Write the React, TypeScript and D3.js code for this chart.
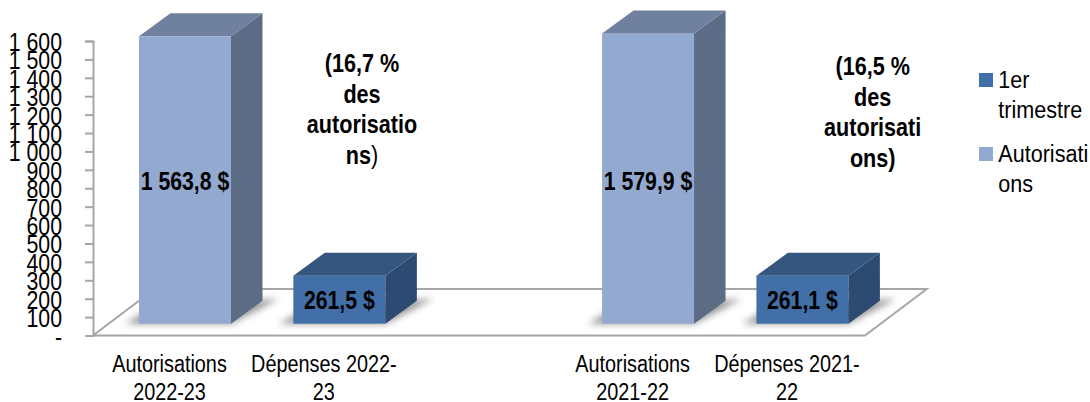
import React, { useEffect, useRef } from "react";
import * as d3 from "d3";

// Bars in plotting order, with an empty slot between the two fiscal years
const slots = ["auth2223", "spend2223", "gap", "auth2122", "spend2122"];
const barSlots = ["auth2223", "spend2223", "auth2122", "spend2122"];
const barValues = [1563.8, 261.5, 1579.9, 261.1];
const barKinds: ("auth" | "spend")[] = ["auth", "spend", "auth", "spend"];
const barLabels = ["1 563,8 $", "261,5 $", "1 579,9 $", "261,1 $"];
const categoryLines = [
  ["Autorisations", "2022-23"],
  ["Dépenses 2022-", "23"],
  ["Autorisations", "2021-22"],
  ["Dépenses 2021-", "22"],
];
const shareNotes = [
  { lines: ["(16,7 %", "des", "autorisatio", "ns"], closing: ")", closingWeight: "normal" },
  { lines: ["(16,5 %", "des", "autorisati", "ons"], closing: ")", closingWeight: "bold" },
];
const legendLines = [
  ["1er", "trimestre"],
  ["Autorisati", "ons"],
];
const axisTicks = d3.range(0, 1700, 100);

const FONT = "'Liberation Sans', Arial, sans-serif";
const DEPTH_X = 31.5;
const DEPTH_Y = 23;
const GRID = "#a6a6a6";

const palette = {
  auth: { front: "#94a9cf", side: "#5d6c85", top: "#6f819f" },
  spend: { front: "#426fa7", side: "#2d4a72", top: "#34567f" },
};

// Front plane of the bars and the wall axis sit on slightly offset baselines
const yBar = d3.scaleLinear().domain([0, 1600]).range([323.7, 29.7]);
const yAxis = d3.scaleLinear().domain([0, 1600]).range([335.5, 41]);
const x = d3.scaleBand().domain(slots).range([139, 848.4]).paddingInner(0.404);

const tickFormat = (v: number) =>
  v === 0 ? "-" : d3.format(",")(v).replace(",", " ");

const poly = (pts: [number, number][]) => d3.line()(pts) + "Z";

// All chart text is set slightly condensed
function Squeezed(props: {
  x: number;
  y: number;
  size: number;
  squeeze: number;
  bold?: boolean;
  anchor?: string;
  children: React.ReactNode;
}) {
  const { x: px, y, size, squeeze, bold, anchor = "middle", children } = props;
  return (
    <text
      transform={`translate(${px},${y}) scale(${squeeze},1)`}
      fontFamily={FONT}
      fontSize={size}
      fontWeight={bold ? "bold" : "normal"}
      textAnchor={anchor}
      fill="#000"
    >
      {children}
    </text>
  );
}

function Bar({ slot, value, kind }: { slot: string; value: number; kind: "auth" | "spend" }) {
  const x0 = x(slot)!;
  const w = x.bandwidth();
  const y0 = yBar(0);
  const y1 = yBar(value);
  const c = palette[kind];
  return (
    <g>
      <path
        d={poly([
          [x0 - 14, y0],
          [x0 + w, y0],
          [x0 + w + DEPTH_X + 16, y0 - DEPTH_Y - 2],
          [x0 + 12, y0 - DEPTH_Y + 8],
        ])}
        fill="#6e6e6e"
        opacity={0.75}
        filter="url(#floorShadow)"
      />
      <rect x={x0} y={y1} width={w} height={y0 - y1} fill={c.front} />
      <path
        d={poly([
          [x0 + w, y1],
          [x0 + w + DEPTH_X, y1 - DEPTH_Y],
          [x0 + w + DEPTH_X, y0 - DEPTH_Y],
          [x0 + w, y0],
        ])}
        fill={c.side}
      />
      <path
        d={poly([
          [x0, y1],
          [x0 + DEPTH_X, y1 - DEPTH_Y],
          [x0 + w + DEPTH_X, y1 - DEPTH_Y],
          [x0 + w, y1],
        ])}
        fill={c.top}
      />
    </g>
  );
}

export default function App() {
  const axisRef = useRef<SVGGElement>(null);

  useEffect(() => {
    const g = d3.select(axisRef.current!);
    g.call(
      d3
        .axisLeft(yAxis)
        .tickValues(axisTicks)
        .tickFormat((v) => tickFormat(+v))
        .tickSize(8)
    );
    g.select(".domain").attr("stroke", GRID).attr("stroke-width", 2);
    g.selectAll(".tick line").attr("stroke", GRID).attr("stroke-width", 2);
    g.selectAll<SVGTextElement, number>(".tick text")
      .attr("x", null)
      .attr("dy", null)
      .attr("transform", "translate(-31,9.5) scale(0.82,1)")
      .attr("font-family", FONT)
      .attr("font-size", 26)
      .attr("fill", "#000")
      .attr("text-anchor", "end");
  }, []);

  const floorFrontY = yAxis(0);
  const floorBackY = floorFrontY - 46.5;
  const floorLeft = 93;
  const floorRight = 865;
  const floorSkew = 61.7;

  return (
    <svg
      width={1090}
      height={402}
      style={{ position: "absolute", left: 0, top: 0, background: "#fff" }}
    >
      <defs>
        <filter id="floorShadow" x="-30%" y="-60%" width="160%" height="220%">
          <feGaussianBlur stdDeviation="3.5" />
        </filter>
      </defs>

      {/* Floor of the 3D plot */}
      <path
        d={poly([
          [floorLeft, floorFrontY],
          [floorLeft + floorSkew, floorBackY],
          [floorRight + floorSkew, floorBackY],
          [floorRight, floorFrontY],
        ])}
        fill="#fff"
        stroke={GRID}
        strokeWidth={2}
      />

      <g ref={axisRef} transform="translate(93,0)" />

      {barSlots.map((slot, i) => (
        <Bar key={slot} slot={slot} value={barValues[i]} kind={barKinds[i]} />
      ))}

      {barSlots.map((slot, i) => {
        const cx = x(slot)! + x.bandwidth() / 2;
        return (
          <g key={slot}>
            <Squeezed x={cx} y={barKinds[i] === "auth" ? 190 : 308.5} size={25} squeeze={0.85} bold>
              {barLabels[i]}
            </Squeezed>
            {categoryLines[i].map((line, l) => (
              <Squeezed key={line} x={cx - 15.5} y={372 + l * 27.6} size={23} squeeze={0.862}>
                {line}
              </Squeezed>
            ))}
          </g>
        );
      })}

      {/* Share of authorities noted beside each fiscal year */}
      {shareNotes.map((note, i) =>
        note.lines.map((line, l) => (
          <Squeezed
            key={`${i}-${l}`}
            x={i === 0 ? 362 : 872.7}
            y={(i === 0 ? 72 : 75) + l * 30.7}
            size={25}
            squeeze={0.864}
            bold
          >
            {line}
            {l === note.lines.length - 1 && (
              <tspan fontWeight={note.closingWeight}>{note.closing}</tspan>
            )}
          </Squeezed>
        ))
      )}

      {/* Legend */}
      {legendLines.map((lines, i) => (
        <g key={lines[0]}>
          <rect
            x={979}
            y={73 + i * 74}
            width={14}
            height={14}
            fill={i === 0 ? palette.spend.front : palette.auth.front}
          />
          {lines.map((line, l) => (
            <Squeezed key={line} x={998.3} y={88.3 + i * 74 + l * 30} size={24.4} squeeze={0.885} anchor="start">
              {line}
            </Squeezed>
          ))}
        </g>
      ))}
    </svg>
  );
}
